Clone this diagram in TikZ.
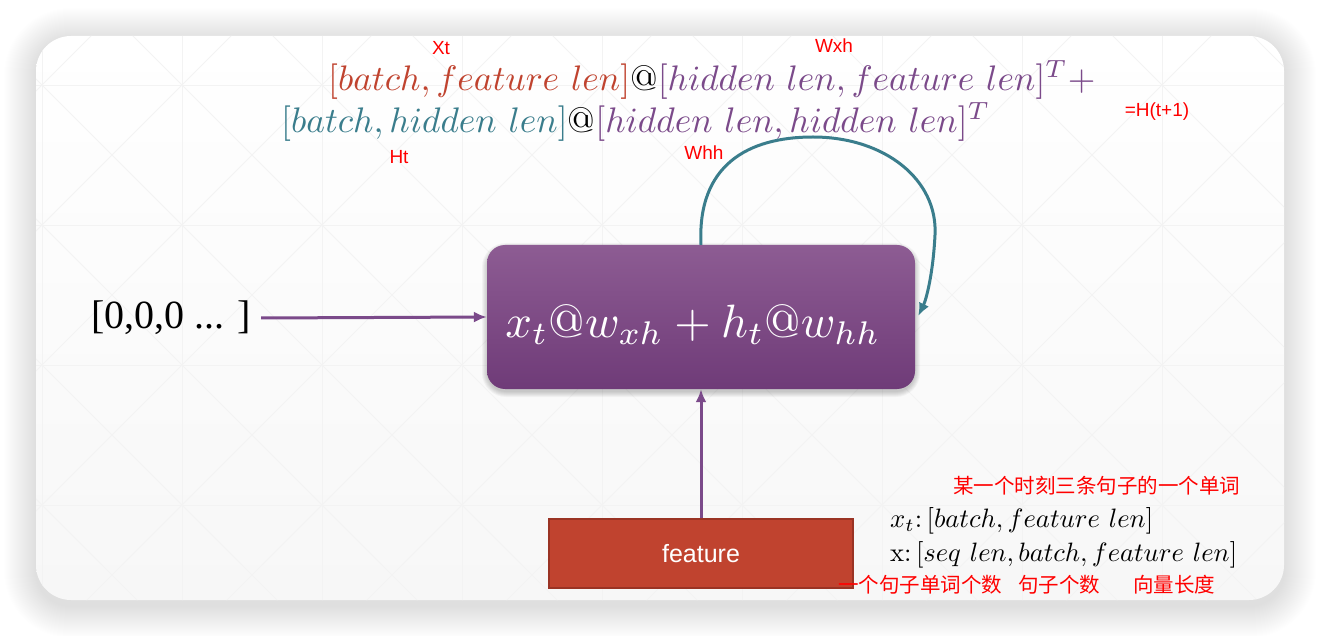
\documentclass[tikz,border=0pt]{standalone}
\usepackage{fontspec}
\usepackage{graphicx}
\usetikzlibrary{arrows.meta}
\newfontfamily\cjkfont{Noto Sans CJK SC}
\newfontfamily\labfont{Liberation Sans}
\newfontfamily\seriffont{Liberation Serif}
\definecolor{rust}{HTML}{C0432F}
\definecolor{rustdark}{HTML}{9A3324}
\definecolor{plum}{HTML}{7B4A8A}
\definecolor{plumtop}{HTML}{8D5C93}
\definecolor{plumbot}{HTML}{6F3B78}
\definecolor{tealc}{HTML}{3A7D8C}
\definecolor{annot}{HTML}{FF0000}
\definecolor{gridc}{HTML}{F3F3F3}
\definecolor{cardbot}{HTML}{F7F7F7}
\tikzset{
  redlabel/.style={font=\labfont\fontsize{19}{22}\selectfont, text=annot, inner sep=0},
  cjklabel/.style={font=\cjkfont\fontsize{20.5}{24}\selectfont, text=annot, inner sep=0},
  formula/.style={inner sep=0, anchor=west},
  cellbox/.style={rounded corners=18, minimum width=428, minimum height=144,
    top color=plumtop, bottom color=plumbot, inner sep=0},
  featbox/.style={fill=rust, draw=rustdark, line width=1.2, minimum width=304,
    minimum height=69, inner sep=0, text=white, font=\labfont\fontsize{25}{30}\selectfont},
  flow/.style={draw=plum, line width=3, -{Latex[length=13,width=11]}},
  recur/.style={draw=tealc, line width=3, -{Latex[length=13,width=11]}},
}
\begin{document}
\begin{tikzpicture}[x=1pt,y=-1pt]
\useasboundingbox (0,0) rectangle (1320,636);
\fill[white] (0,0) rectangle (1320,636);
% soft shadow round the card
\foreach \i in {1,...,32}{
  \pgfmathsetmacro\rr{35+\i}
  \fill[black, opacity=0.0048, rounded corners=\rr] (36-\i,40-\i) rectangle (1284+\i,606+\i);
}
% card, a little greyer towards the bottom
\shade[rounded corners=35, top color=white, bottom color=cardbot] (36,36) rectangle (1284,600);
% faint grid with crossing diagonals
\begin{scope}
  \clip[rounded corners=35] (36,36) rectangle (1284,600);
  \foreach \x in {42,182,...,1302} \draw[gridc, line width=0.9] (\x,0) -- (\x,636);
  \foreach \y in {-55,85,...,645} \draw[gridc, line width=0.9] (0,\y) -- (1320,\y);
  \foreach \x in {-98,42,...,1302}{
    \foreach \y in {-55,85,...,645}{
      \draw[gridc, line width=0.9] (\x,\y) -- (\x+140,\y+140);
      \draw[gridc, line width=0.9] (\x,\y+140) -- (\x+140,\y);
    }
  }
\end{scope}

% labels above the formula
\node[redlabel] (lxt) at (441,48) {Xt};
\node[redlabel] (lwxh) at (834,46) {Wxh};
\node[redlabel] (lht) at (399,157) {Ht};
\node[redlabel] (lwhh) at (704,153) {Whh};
\node[redlabel] (lhnext) at (1157,112) {=H(t+1)};

% shape formula
\node[formula] (shape1) at (328,80) {\resizebox{767pt}{!}{$\textcolor{rust}{[batch, feature\ len]}@\textcolor{plum}{[hidden\ len, feature\ len]^T+}$}};
\node[formula] (shape2) at (281,122) {\resizebox{709pt}{!}{$\textcolor{tealc}{[batch, hidden\ len]}@\textcolor{plum}{[hidden\ len, hidden\ len]^T}$}};

% shadow of the cell box
\foreach \i in {1,...,6}{
  \fill[black, opacity=0.035, rounded corners=18+\i] (487-\i+1,245-\i+4) rectangle (915+\i-1,389+\i+2);
}
% cell box
\node[cellbox] (cell) at (701,317) {};
\node[inner sep=0, text=white] (celltext) at (693,325) {\resizebox{375pt}{!}{$x_t@w_{xh}+h_t@w_{hh}$}};

% input
\node[font=\seriffont\fontsize{40}{46}\selectfont, inner sep=0] (zeros) at (171,318) {[0,0,0 ... ]};
\draw[flow] ([xshift=10]zeros.east) -- (cell.west);

% feature box
\node[featbox] (feat) at (701,553.5) {feature};
\draw[flow] (feat.north) -- (cell.south);

% recurrent loop
\draw[recur] (cell.north) .. controls (697,165) and (748,137) .. (813,137)
  .. controls (885,137) and (938,180) .. (935,235)
  .. controls (933,275) and (926,300) .. ([xshift=3,yshift=1]cell.east);

% notes on the right
\node[cjklabel, anchor=west] (note1) at (953,486) {某一个时刻三条句子的一个单词};
\node[formula] (xtshape) at (890,521) {\resizebox{263pt}{!}{$x_t\mathrm{:}\,[batch, feature\ len]$}};
\node[formula] (xshape) at (890,555) {\resizebox{347pt}{!}{$\mathrm{x}\mathrm{:}\,[seq\ len, batch, feature\ len]$}};
\node[cjklabel, anchor=west] (note2) at (838,585) {一个句子单词个数};
\node[cjklabel, anchor=west] (note3) at (1018,585) {句子个数};
\node[cjklabel, anchor=west] (note4) at (1133,585) {向量长度};
\end{tikzpicture}
\end{document}
